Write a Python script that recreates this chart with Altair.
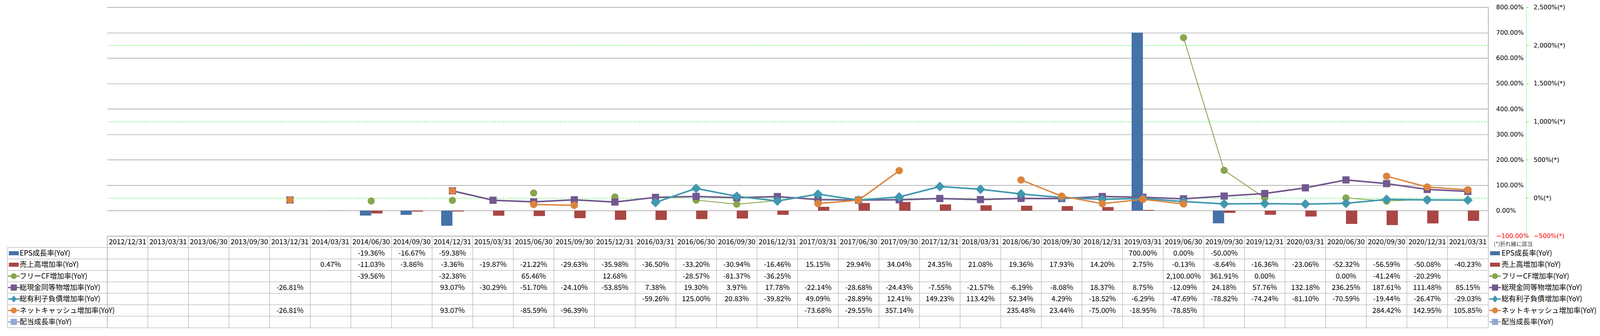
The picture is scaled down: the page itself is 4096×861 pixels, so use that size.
import altair as alt
import pandas as pd

dates = ["2012/12/31", "2013/03/31", "2013/06/30", "2013/09/30", "2013/12/31",
         "2014/03/31", "2014/06/30", "2014/09/30", "2014/12/31",
         "2015/03/31", "2015/06/30", "2015/09/30", "2015/12/31",
         "2016/03/31", "2016/06/30", "2016/09/30", "2016/12/31",
         "2017/03/31", "2017/06/30", "2017/09/30", "2017/12/31",
         "2018/03/31", "2018/06/30", "2018/09/30", "2018/12/31",
         "2019/03/31", "2019/06/30", "2019/09/30", "2019/12/31",
         "2020/03/31", "2020/06/30", "2020/09/30", "2020/12/31", "2021/03/31"]
N = None
eps = [N, N, N, N, N,
       N, -19.36, -16.67, -59.38,
       N, N, N, N,
       N, N, N, N,
       N, N, N, N,
       N, N, N, N,
       700.00, 0.00, -50.00, N,
       N, N, N, N, N]
sales = [N, N, N, N, N,
         0.47, -11.03, -3.86, -3.36,
         -19.87, -21.22, -29.63, -35.98,
         -36.50, -33.20, -30.94, -16.46,
         15.15, 29.94, 34.04, 24.35,
         21.08, 19.36, 17.93, 14.20,
         2.75, -0.13, -8.64, -16.36,
         -23.06, -52.32, -56.59, -50.08, -40.23]
fcf = [N, N, N, N, N,
       N, -39.56, N, -32.38,
       N, 65.46, N, 12.68,
       N, -28.57, -81.37, -36.25,
       N, N, N, N,
       N, N, N, N,
       N, 2100.00, 361.91, 0.00,
       N, 0.00, -41.24, -20.29, N]
cash = [N, N, N, N, -26.81,
        N, N, N, 93.07,
        -30.29, -51.70, -24.10, -53.85,
        7.38, 19.30, 3.97, 17.78,
        -22.14, -28.68, -24.43, -7.55,
        -21.57, -6.19, -8.08, 18.37,
        8.75, -12.09, 24.18, 57.76,
        132.18, 236.25, 187.61, 111.48, 85.15]
debt = [N, N, N, N, N,
        N, N, N, N,
        N, N, N, N,
        -59.26, 125.00, 20.83, -39.82,
        49.09, -28.89, 12.41, 149.23,
        113.42, 52.34, 4.29, -18.52,
        -6.29, -47.69, -78.82, -74.24,
        -81.10, -70.59, -19.44, -26.47, -29.03]
netcash = [N, N, N, N, -26.81,
           N, N, N, 93.07,
           N, -85.59, -96.39, N,
           N, N, N, N,
           -73.68, -29.55, 357.14, N,
           N, 235.48, 23.44, -75.00,
           -18.95, -78.85, N, N,
           N, N, 284.42, 142.95, 105.85]
dividend = [N] * 34

series = ["EPS成長率(YoY)", "売上高増加率(YoY)", "フリーCF増加率(YoY)",
          "総現金同等物増加率(YoY)", "総有利子負債増加率(YoY)",
          "ネットキャッシュ増加率(YoY)", "配当成長率(YoY)"]
colors = ["#4572A7", "#AA4643", "#89A54E", "#71588F", "#4198AF", "#DB843D", "#93A9CF"]
values = [eps, sales, fcf, cash, debt, netcash, dividend]

primary_ticks = list(range(-100, 801, 100))
secondary_ticks = list(range(-500, 2501, 500))

# ---------------- layout constants (output px) ----------------
W = 3556
PH = 590
RH = 29.5
TH = RH * 8
TABLE_LINE = "#a0a0a0"
GRID = "#868686"
LBL_FONT = "Noto Sans CJK JP"
AX_FONT = "DejaVu Sans"

xscale = alt.Scale(domain=dates, paddingInner=0, paddingOuter=0)
series_color = alt.Scale(domain=series, range=colors)

# ---------------- bars ----------------
bar_rows = []
for k in (0, 1):
    for d, v in zip(dates, values[k]):
        if v is not None:
            bar_rows.append({"date": d, "kind": series[k], "val": v})
bars_df = pd.DataFrame(bar_rows)

primary_axis = alt.Axis(
    orient="right", values=primary_ticks,
    labelExpr="format(datum.value, '.2f') + '%'",
    labelAlign="left", labelBaseline="middle", labelPadding=20,
    ticks=False, tickSize=0, domain=True, domainColor=GRID, domainWidth=1.2,
    grid=True, gridColor=GRID, gridWidth=1.2,
    labelFont=AX_FONT, labelFontSize=16,
    labelColor={"condition": {"test": "datum.value == -100", "value": "#ff0000"}, "value": "#000000"},
    title=None)

bars = alt.Chart(bars_df).mark_bar().encode(
    x=alt.X("date:N", scale=xscale, axis=None),
    xOffset=alt.XOffset("kind:N", scale=alt.Scale(domain=series[:2], paddingInner=0, paddingOuter=0.8)),
    y=alt.Y("val:Q", scale=alt.Scale(domain=[-100, 800], nice=False, zero=False), axis=primary_axis, title=None),
    color=alt.Color("kind:N", scale=series_color, legend=None),
)

# ---------------- lines on secondary axis ----------------
secondary_axis = alt.Axis(
    orient="right", offset=98, values=secondary_ticks,
    labelExpr="format(datum.value, ',') + '%(*)'",
    labelAlign="left", labelBaseline="middle", labelPadding=13,
    ticks=True, tickSize=5.6, tickColor="#00ee00", tickWidth=1,
    domain=True, domainColor="#00ee00", domainDash=[2, 2], domainWidth=1,
    grid=True, gridColor="#00ee00", gridDash=[4, 3], gridWidth=1,
    gridOpacity={"condition": {"test": "datum.value % 1000 == 0", "value": 1}, "value": 0},
    labelFont=AX_FONT, labelFontSize=16,
    labelColor={"condition": {"test": "datum.value == -500", "value": "#ff0000"}, "value": "#000000"},
    title=None)
sec_scale = alt.Scale(domain=[-500, 2500], nice=False, zero=False)

line_styles = {2: ("circle", 342, 2.2), 3: ("square", 342, 4.0),
               4: ("diamond", 625, 4.0), 5: ("circle", 361, 3.5)}

series_layers = []
for k in (2, 3, 4, 5):
    rows = []
    seg = -1
    prev = None
    for d, v in zip(dates, values[k]):
        if v is None:
            prev = None
            continue
        if prev is None:
            seg += 1
        rows.append({"date": d, "val": v, "seg": seg})
        prev = v
    df = pd.DataFrame(rows)
    shp, sz, sw = line_styles[k]
    base = alt.Chart(df).encode(
        x=alt.X("date:N", scale=xscale, axis=None),
        y=alt.Y("val:Q", scale=sec_scale, axis=secondary_axis, title=None),
    )
    series_layers.append(base.mark_line(color=colors[k], strokeWidth=sw).encode(detail="seg:N"))
    series_layers.append(base.mark_point(filled=True, opacity=1, shape=shp, size=sz, color=colors[k], strokeWidth=0))

top = alt.layer(bars, alt.layer(*series_layers)).resolve_scale(y="independent").properties(
    width=W, height=PH)

# ---------------- table ----------------
rows_domain = ["header"] + series
yscale = alt.Scale(domain=rows_domain, paddingInner=0, paddingOuter=0)

cell_rows = [{"row": "header", "date": d, "txt": d} for d in dates]
for k in range(7):
    for d, v in zip(dates, values[k]):
        if v is not None:
            cell_rows.append({"row": series[k], "date": d, "txt": f"{v:,.2f}%"})
cells_df = pd.DataFrame(cell_rows)
cols_df = pd.DataFrame({"date": dates})
rowlines_df = pd.DataFrame({"row": rows_domain})
serieslines_df = pd.DataFrame({"row": series})
one = pd.DataFrame({"a": [0]})

label_expr = "datum.value == 'header' ? '' : datum.value"
left_axis = alt.Axis(orient="left", labelExpr=label_expr, labelAlign="left", labelBaseline="middle",
                     labelPadding=226, ticks=False, tickSize=0, domain=False, grid=False,
                     labelFont=LBL_FONT, labelFontSize=18.5, labelColor="#000000", labelLimit=600, title=None)
right_axis = alt.Axis(orient="right", labelExpr=label_expr, labelAlign="left", labelBaseline="middle",
                      labelPadding=34, ticks=False, tickSize=0, domain=False, grid=False,
                      labelFont=LBL_FONT, labelFontSize=18.5, labelColor="#000000", labelLimit=600, title=None)

vlines = alt.Chart(cols_df).mark_rule(color=TABLE_LINE, strokeWidth=1).encode(
    x=alt.X("date:N", scale=xscale, axis=None, bandPosition=0),
    y=alt.value(0), y2=alt.value(TH))

hlines = alt.Chart(rowlines_df).mark_rule(color=TABLE_LINE, strokeWidth=1).encode(
    y=alt.Y("row:N", scale=yscale, axis=left_axis, bandPosition=0, title=None),
    x=alt.value(0), x2=alt.value(W))

label_hlines = alt.Chart(serieslines_df).mark_rule(color=TABLE_LINE, strokeWidth=1).encode(
    y=alt.Y("row:N", scale=yscale, axis=left_axis, bandPosition=0, title=None),
    x=alt.value(-257), x2=alt.value(0))

label_bottom = alt.Chart(one).mark_rule(color=TABLE_LINE, strokeWidth=1).encode(
    y=alt.value(TH), x=alt.value(-257), x2=alt.value(0))
label_left = alt.Chart(one).mark_rule(color=TABLE_LINE, strokeWidth=1).encode(
    x=alt.value(-257), y=alt.value(RH), y2=alt.value(TH))

cells = alt.Chart(cells_df).mark_text(font=LBL_FONT, fontSize=18.5, color="#000000",
                                      align="center", baseline="middle").encode(
    x=alt.X("date:N", scale=xscale, axis=None),
    y=alt.Y("row:N", scale=yscale, axis=left_axis, title=None),
    text="txt:N")

sym_paths = [
    "M-0.85,-0.35H0.85V0.35H-0.85Z",
    "M-0.85,-0.35H0.85V0.35H-0.85Z",
    "M-1,-0.11H1V0.11H-1Z M-0.5,0A0.5,0.5,0,1,1,0.5,0A0.5,0.5,0,1,1,-0.5,0Z",
    "M-1,-0.11H1V0.11H-1Z M-0.53,-0.53H0.53V0.53H-0.53Z",
    "M-1,-0.11H1V0.11H-1Z M0,-0.6L0.5,0L0,0.6L-0.5,0Z",
    "M-1,-0.11H1V0.11H-1Z M-0.5,0A0.5,0.5,0,1,1,0.5,0A0.5,0.5,0,1,1,-0.5,0Z",
    "M-1,-0.11H1V0.11H-1Z M-0.53,-0.53H0.53V0.53H-0.53Z",
]
sym_shape = alt.Shape("row:N", scale=alt.Scale(domain=series, range=sym_paths), legend=None)
sym_color = alt.Color("row:N", scale=series_color, legend=None)

sym_left = alt.Chart(serieslines_df).mark_point(filled=True, opacity=1, size=900, strokeWidth=0).encode(
    x=alt.value(-240.5),
    y=alt.Y("row:N", scale=yscale, axis=left_axis, title=None),
    shape=sym_shape, color=sym_color)

sym_right = alt.Chart(serieslines_df).mark_point(filled=True, opacity=1, size=900, strokeWidth=0).encode(
    x=alt.value(W + 17.7),
    y=alt.Y("row:N", scale=yscale, axis=right_axis, title=None),
    shape=sym_shape, color=sym_color)

note = alt.Chart(one).mark_text(font=LBL_FONT, fontSize=14, color="#404040",
                                align="left", baseline="middle").encode(
    x=alt.value(W + 14.5), y=alt.value(21), text=alt.value("(*)折れ線に該当"))

table_left = alt.layer(vlines, hlines, label_hlines, label_bottom, label_left, cells, sym_left, note)
table = alt.layer(table_left, sym_right).resolve_axis(y="independent").properties(
    width=W, height=TH, view=alt.ViewBackground(stroke=TABLE_LINE, strokeWidth=1))

chart = alt.vconcat(top, table, spacing=0, bounds="flush").resolve_scale(
    color="independent", shape="independent"
).properties(
    padding={"left": 10, "top": 0, "right": 0, "bottom": 0}
).configure_view(stroke=None)

chart.save("out.html", embed_options={"renderer": "svg", "actions": False})
